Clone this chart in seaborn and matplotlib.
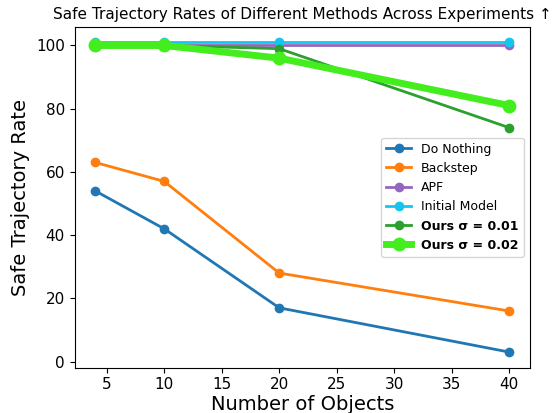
import pandas as pd
import matplotlib.pyplot as plt
import seaborn as sns

# Данные
objects = [4, 10, 20, 40]
do_nothing = [54, 42, 17, 3]
backstep = [63, 57, 28, 16]
apf = [100, 100, 100, 100]
initial_model = [101, 101, 101, 101]
ours_001 = [100, 100, 99, 74]
ours_002 = [100, 100, 96, 81]

series = [
    ('Do Nothing', do_nothing, '#1f77b4', 2, 7),
    ('Backstep', backstep, '#ff7f0e', 2, 7),
    ('APF', apf, '#9467bd', 2, 7),
    ('Initial Model', initial_model, '#12c6ee', 2, 7),
    ('Ours σ = 0.01', ours_001, '#2ca02c', 2, 7),
    ('Ours σ = 0.02', ours_002, '#44ee1e', 5, 10),
]

fig, ax = plt.subplots(figsize=(5.52, 4.13), dpi=100)
for name, vals, color, lw, ms in series:
    df = pd.DataFrame({'Number of Objects': objects, 'Safe Trajectory Rate': vals})
    sns.lineplot(data=df, x='Number of Objects', y='Safe Trajectory Rate', ax=ax,
                 color=color, linewidth=lw, marker='o', markersize=ms,
                 markeredgewidth=0, label=name)

ax.set_title('Safe Trajectory Rates of Different Methods Across Experiments ↑', fontsize=11)
ax.set_xlabel('Number of Objects', fontsize=14, labelpad=2)
ax.set_ylabel('Safe Trajectory Rate', fontsize=14)
ax.set_xticks([5, 10, 15, 20, 25, 30, 35, 40])
ax.set_yticks([0, 20, 40, 60, 80, 100])
ax.tick_params(labelsize=11)

leg = ax.legend(fontsize=9, loc='center right', bbox_to_anchor=(1.0, 0.5))
for t in leg.get_texts():
    if t.get_text().startswith('Ours'):
        t.set_fontweight('bold')

plt.subplots_adjust(left=0.135, right=0.96, top=0.935, bottom=0.11)
plt.savefig('out.png', dpi=100)
